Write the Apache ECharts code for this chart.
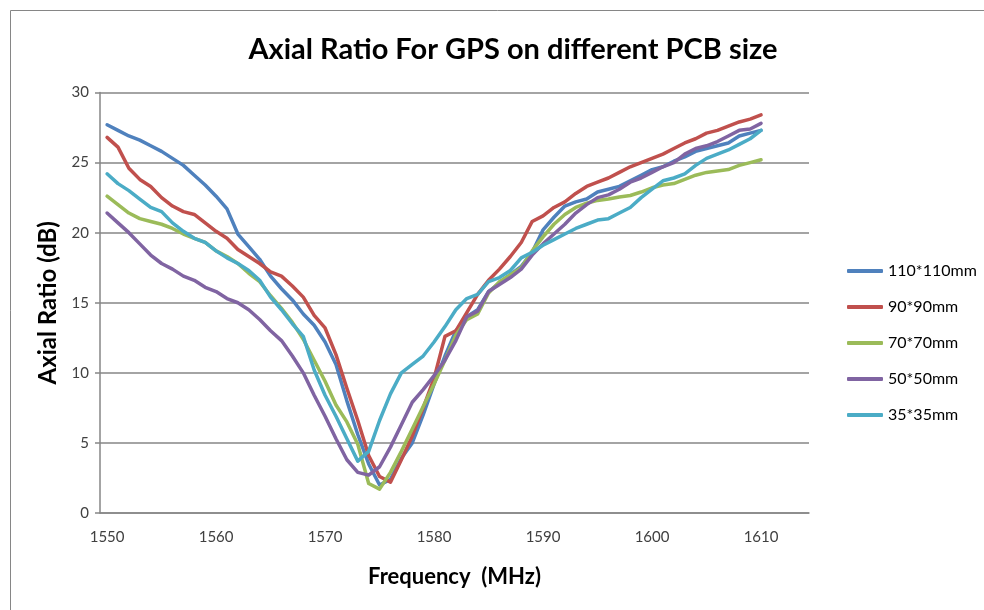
<!DOCTYPE html>
<html>
<head>
<meta charset="utf-8">
<script src="https://cdn.jsdelivr.net/npm/echarts@6/dist/echarts.min.js"></script>
<style>
  html, body { margin: 0; padding: 0; background: #fff; }
  #chart { width: 984px; height: 610px; }
</style>
</head>
<body>
<div id="chart"></div>
<script>
// frequency points, 1 MHz apart
const freqs = [];
for (let f = 1550; f <= 1610; f++) freqs.push(f);

const xTickLabels = [1550, 1560, 1570, 1580, 1590, 1600, 1610];
const seriesNames = ['110*110mm', '90*90mm', '70*70mm', '50*50mm', '35*35mm'];

const ar110 = [27.7, 27.3, 26.9, 26.6, 26.2, 25.8, 25.3, 24.8, 24.1, 23.4,
  22.6, 21.7, 19.9, 19.0, 18.1, 16.9, 16.0, 15.2, 14.2, 13.4,
  12.2, 10.6, 8.0, 5.6, 3.5, 2.0, 2.4, 3.9, 5.0, 7.0,
  9.2, 11.2, 13.0, 14.0, 14.5, 15.8, 16.4, 17.0, 17.6, 18.6,
  20.2, 21.1, 21.9, 22.2, 22.4, 22.9, 23.1, 23.3, 23.7, 24.1,
  24.5, 24.7, 25.1, 25.4, 25.8, 26.0, 26.2, 26.4, 26.9, 27.1, 27.3];

const ar90 = [26.8, 26.1, 24.6, 23.8, 23.3, 22.5, 21.9, 21.5, 21.3, 20.7,
  20.1, 19.6, 18.8, 18.3, 17.8, 17.2, 16.9, 16.2, 15.4, 14.1,
  13.2, 11.3, 8.9, 6.6, 4.1, 2.6, 2.2, 3.8, 5.5, 7.5,
  9.6, 12.6, 13.0, 14.3, 15.6, 16.6, 17.4, 18.3, 19.3, 20.8,
  21.2, 21.8, 22.2, 22.8, 23.3, 23.6, 23.9, 24.3, 24.7, 25.0,
  25.3, 25.6, 26.0, 26.4, 26.7, 27.1, 27.3, 27.6, 27.9, 28.1, 28.4];

const ar70 = [22.6, 22.0, 21.4, 21.0, 20.8, 20.6, 20.3, 19.9, 19.6, 19.3,
  18.7, 18.3, 17.8, 17.1, 16.5, 15.5, 14.6, 13.6, 12.4, 10.9,
  9.4, 7.7, 6.5, 4.9, 2.1, 1.7, 2.9, 4.4, 6.0, 7.6,
  9.2, 10.9, 12.7, 13.8, 14.2, 15.7, 16.5, 17.0, 17.5, 18.7,
  19.7, 20.6, 21.3, 21.8, 22.1, 22.3, 22.4, 22.55, 22.65, 22.9,
  23.2, 23.4, 23.5, 23.8, 24.1, 24.3, 24.4, 24.5, 24.8, 25.0, 25.2];

const ar50 = [21.4, 20.7, 20.0, 19.2, 18.4, 17.8, 17.4, 16.9, 16.6, 16.1,
  15.8, 15.3, 15.0, 14.5, 13.8, 13.0, 12.3, 11.2, 10.0, 8.4,
  6.9, 5.3, 3.8, 2.9, 2.7, 3.3, 4.7, 6.3, 7.9, 8.8,
  9.8, 10.9, 12.3, 14.0, 14.4, 15.8, 16.3, 16.8, 17.4, 18.4,
  19.2, 19.9, 20.6, 21.4, 22.0, 22.5, 22.7, 23.1, 23.6, 23.9,
  24.3, 24.7, 25.0, 25.6, 26.0, 26.2, 26.5, 26.9, 27.3, 27.4, 27.8];

const ar35 = [24.2, 23.5, 23.0, 22.4, 21.8, 21.5, 20.7, 20.1, 19.6, 19.3,
  18.7, 18.2, 17.8, 17.3, 16.6, 15.4, 14.5, 13.5, 12.6, 10.2,
  8.4, 6.9, 5.3, 3.7, 4.4, 6.6, 8.5, 10.0, 10.6, 11.2,
  12.2, 13.3, 14.5, 15.3, 15.6, 16.5, 16.8, 17.3, 18.2, 18.6,
  19.1, 19.5, 19.9, 20.3, 20.6, 20.9, 21.0, 21.4, 21.8, 22.5,
  23.1, 23.7, 23.9, 24.2, 24.8, 25.3, 25.6, 25.9, 26.3, 26.7, 27.3];

const colors = ['#4F81BD', '#C0504D', '#9BBB59', '#8064A2', '#4BACC6'];
const allData = [ar110, ar90, ar70, ar50, ar35];

const font = 'Lato, "Open Sans", sans-serif';
const chart = echarts.init(document.getElementById('chart'));

const option = {
  backgroundColor: '#fff',
  animation: false,
  color: colors,
  title: {
    text: 'Axial Ratio For GPS on different PCB size',
    left: 508,
    textAlign: 'center',
    top: 30,
    textStyle: { fontFamily: font, fontWeight: 'bold', fontSize: 29, color: '#000' }
  },
  graphic: [{
    type: 'rect',
    shape: { x: 10.5, y: 10.5, width: 1000, height: 700 },
    style: { fill: 'none', stroke: '#868686', lineWidth: 1 },
    silent: true
  }],
  legend: {
    orient: 'vertical',
    left: 842,
    top: 258,
    icon: 'roundRect',
    itemWidth: 36,
    itemHeight: 4,
    itemGap: 20,
    data: seriesNames,
    textStyle: { fontFamily: font, fontSize: 16, color: '#000' }
  },
  grid: { left: 100, right: 175, top: 92.5, bottom: 97 },
  xAxis: {
    type: 'value',
    min: 1549.35,
    max: 1614.4,
    name: 'Frequency  (MHz)',
    nameLocation: 'middle',
    nameGap: 53,
    nameTextStyle: { fontFamily: font, fontWeight: 'bold', fontSize: 22, color: '#000' },
    axisLine: { show: true, lineStyle: { color: '#868686', width: 1.5 } },
    axisTick: { show: false },
    splitLine: { show: false },
    axisLabel: {
      customValues: xTickLabels,
      formatter: (v) => String(v),
      margin: 17,
      fontFamily: font, fontSize: 15, color: '#404040'
    }
  },
  yAxis: {
    type: 'value',
    min: 0,
    max: 30,
    interval: 5,
    name: 'Axial Ratio (dB)',
    nameLocation: 'middle',
    nameRotate: 90,
    nameGap: 40,
    nameTextStyle: { fontFamily: font, fontWeight: 'bold', fontSize: 24, color: '#000' },
    axisLine: { show: true, lineStyle: { color: '#868686', width: 1.5 } },
    axisTick: { show: true, length: 5, lineStyle: { color: '#868686', width: 1.5 } },
    splitLine: { show: true, lineStyle: { color: '#868686', width: 1.5 } },
    axisLabel: { margin: 11, fontFamily: font, fontSize: 15, color: '#404040' }
  },
  series: seriesNames.map((name, i) => ({
    name: name,
    type: 'line',
    showSymbol: false,
    symbol: 'none',
    lineStyle: { width: 3.5, cap: 'round', join: 'round' },
    data: freqs.map((f, j) => [f, allData[i][j]])
  }))
};

chart.setOption(option);
</script>
</body>
</html>
